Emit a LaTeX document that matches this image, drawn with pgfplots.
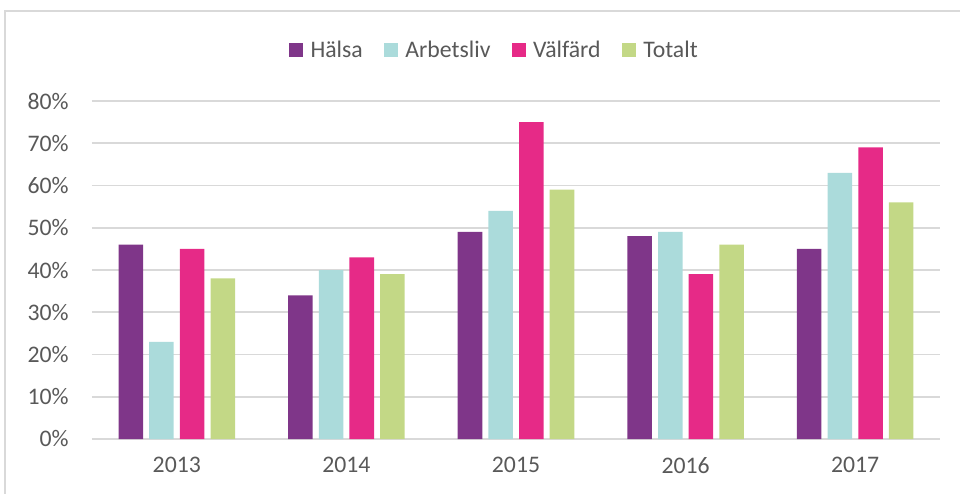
\documentclass[border=0pt]{standalone}
\usepackage{pgfplots}
\pgfplotsset{compat=1.18}
\usepackage{fontspec}
\setmainfont{Carlito}
\definecolor{cHalsa}{HTML}{7F3689}
\definecolor{cArb}{HTML}{ABDBDB}
\definecolor{cVal}{HTML}{E62A87}
\definecolor{cTot}{HTML}{C3D886}
\definecolor{txt}{HTML}{595959}
\definecolor{gridc}{HTML}{D9D9D9}
\begin{document}
\begin{tikzpicture}[x=0.75pt,y=0.75pt]
\useasboundingbox (-92,-54) rectangle (868,439);
\draw[gridc, line width=1.5pt] (-87,-60) -- (-87,428) -- (880,428);
\begin{axis}[
  at={(0,0)}, anchor=south west,
  scale only axis,
  width=636pt, height=253.5pt,
  ybar=4.6pt, bar width=18.4pt,
  xmin=-0.5, xmax=4.5, ymin=0, ymax=80,
  xtick={0,1,2,3,4}, xticklabels={2013,2014,2015,2016,2017},
  ytick={0,10,...,80},
  yticklabel={\pgfmathprintnumber{\tick}\%},
  /pgf/number format/assume math mode=true,
  ymajorgrids, xmajorgrids=false, grid style={draw=gridc, line width=1.3pt},
  axis lines*=left,
  y axis line style={draw=none},
  x axis line style={draw=gridc, line width=1.3pt, -},
  xtick style={draw=none}, ytick style={draw=none},
  major tick length=0pt,
  tick label style={font=\fontsize{17.8}{20}\selectfont, text=txt},
  yticklabel style={xshift=-14pt},
  xticklabel style={yshift=-10pt},
  legend style={at={(0.475,1.151)}, anchor=center, draw=none, legend columns=-1,
    font=\fontsize{17.8}{20}\selectfont, text=txt, inner sep=0pt,
    /tikz/every odd column/.append style={column sep=0pt},
    /tikz/every even column/.append style={column sep=14pt}},
  legend image code/.code={\fill[#1] (0pt,-5.25pt) rectangle (10.5pt,5.25pt); \path (14pt,0pt);},
  clip=false,
]
\addplot[fill=cHalsa, draw=none] coordinates {(0,46) (1,34) (2,49) (3,48) (4,45)};
\addplot[fill=cArb, draw=none] coordinates {(0,23) (1,40) (2,54) (3,49) (4,63)};
\addplot[fill=cVal, draw=none] coordinates {(0,45) (1,43) (2,75) (3,39) (4,69)};
\addplot[fill=cTot, draw=none] coordinates {(0,38) (1,39) (2,59) (3,46) (4,56)};
\legend{Hälsa, Arbetsliv, Välfärd, Totalt}
\end{axis}
\end{tikzpicture}
\end{document}
